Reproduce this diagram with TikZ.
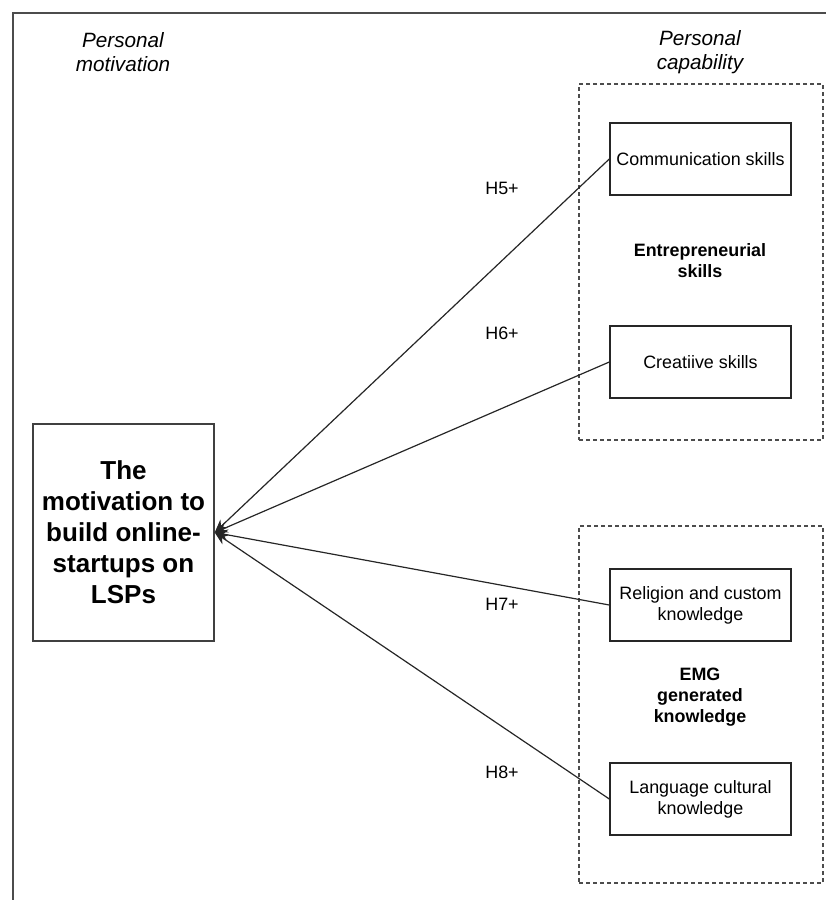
\documentclass[tikz,border=0pt]{standalone}
\usepackage{fontspec}
\setmainfont{Liberation Sans}
\usetikzlibrary{arrows.meta}
\begin{document}
\begin{tikzpicture}[x=1pt,y=-1pt,
  small/.style={font=\fontsize{17.9}{21}\selectfont, align=center},
  boldlbl/.style={font=\fontsize{17.9}{21}\selectfont\bfseries, align=center},
  header/.style={font=\fontsize{20.7}{24}\selectfont\itshape, align=center},
  itembox/.style={draw=black!85, line width=1.4pt, minimum width=181pt, minimum height=72pt, inner sep=0pt, small},
  groupbox/.style={draw=black!70, line width=1.2pt, dash pattern=on 4pt off 3pt, minimum width=244pt, inner sep=0pt},
  mainbox/.style={draw=black!75, line width=1.4pt, minimum width=181pt, minimum height=217pt, inner sep=0pt,
    font=\fontsize{26}{31}\selectfont\bfseries, align=center},
  arr/.style={draw=black!85, line width=1.2pt, -{Stealth[length=13pt,width=11pt]}},
  hlabel/.style={font=\fontsize{17.9}{21}\selectfont}
]
\useasboundingbox (0,0) rectangle (826,900);

% outer frame (open at right and bottom)
\draw[black!70, line width=1.3pt] (13,900) -- (13,13) -- (826,13);

% column headers
\node[header] (hmot) at (123,52) {Personal\\motivation};
\node[header] (hcap) at (700,52.5) {Personal\\capability};

% group frames
\node[groupbox, minimum height=356pt] (grp1) at (701,262) {};
\node[groupbox, minimum height=357pt] (grp2) at (701,704.5) {};

% group titles
\node[boldlbl] (gt1) at (700,261) {Entrepreneurial\\skills};
\node[boldlbl] (gt2) at (700,697) {EMG\\generated\\knowledge};

% items
\node[itembox] (comm) at (700.5,159) {Communication skills};
\node[itembox] (crea) at (700.5,362) {Creatiive skills};
\node[itembox] (reli) at (700.5,605) {Religion and custom\\knowledge};
\node[itembox] (lang) at (700.5,799) {Language cultural\\knowledge};

% outcome
\node[mainbox] (main) at (123.5,532.5) {The\\motivation to\\build online-\\startups on\\LSPs};

% hypotheses
\draw[arr] (comm.west) -- (main.east);
\draw[arr] (crea.west) -- (main.east);
\draw[arr] (reli.west) -- (main.east);
\draw[arr] (lang.west) -- (main.east);

\node[hlabel] (h5) at (502,188) {H5+};
\node[hlabel] (h6) at (502,333) {H6+};
\node[hlabel] (h7) at (502,604) {H7+};
\node[hlabel] (h8) at (502,772) {H8+};
\end{tikzpicture}
\end{document}
